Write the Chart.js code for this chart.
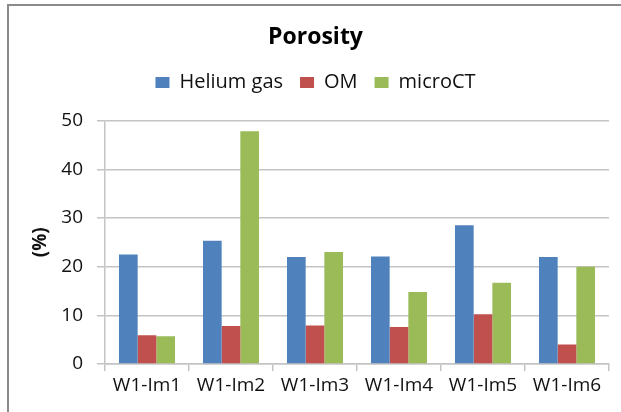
<!DOCTYPE html>
<html>
<head>
<meta charset="utf-8">
<script src="https://cdn.jsdelivr.net/npm/chart.js@4/dist/chart.umd.min.js"></script>
<style>
  body { margin: 0; background: #fff; }
  #wrap { position: relative; width: 621px; height: 412px; overflow: hidden; }
  #frame { position: absolute; left: 7px; top: 4px; width: 700px; height: 500px;
           border-top: 2px solid #8a8a8a; border-left: 2px solid #8a8a8a; pointer-events: none; }
</style>
</head>
<body>
<div id="wrap">
  <canvas id="porosityChart" width="621" height="412"></canvas>
  <div id="frame"></div>
</div>
<script>
const categorias = ['W1-Im1', 'W1-Im2', 'W1-Im3', 'W1-Im4', 'W1-Im5', 'W1-Im6'];
const heliumGas = [22.5, 25.3, 22.0, 22.1, 28.5, 22.0];
const om = [5.9, 7.8, 7.9, 7.6, 10.2, 4.0];
const microCT = [5.7, 47.8, 23.0, 14.8, 16.7, 20.0];
const yMin = 0, yMax = 50, yStep = 10;

const fuente = '"Open Sans", sans-serif';
const gris = '#c4c4c4';

// espacio extra debajo de la leyenda
const legendSpacer = {
    id: 'legendSpacer',
    beforeInit(chart) {
        const originalFit = chart.legend.fit;
        chart.legend.fit = function fit() {
            originalFit.bind(chart.legend)();
            this.height += 18;
        };
    }
};

const ctx = document.getElementById('porosityChart').getContext('2d');

new Chart(ctx, {
    type: 'bar',
    data: {
        labels: categorias,
        datasets: [
            { label: 'Helium gas', data: heliumGas, backgroundColor: '#4F81BD' },
            { label: 'OM', data: om, backgroundColor: '#C0504D' },
            { label: 'microCT', data: microCT, backgroundColor: '#9BBB59' }
        ]
    },
    options: {
        responsive: false,
        devicePixelRatio: 1,
        animation: false,
        datasets: {
            bar: { categoryPercentage: 0.667, barPercentage: 1.0 }
        },
        layout: { padding: { top: 5, left: 22, right: 12, bottom: 0 } },
        scales: {
            x: {
                offset: true,
                grid: { drawOnChartArea: false, drawTicks: true, tickLength: 7, color: gris, lineWidth: 1.5, offset: true },
                border: { display: true, color: gris, width: 1.5 },
                ticks: { color: '#111', padding: 3, font: { family: fuente, size: 19 }, maxRotation: 0 },
                afterFit: (scale) => { scale.height = 48; }
            },
            y: {
                min: yMin,
                max: yMax,
                grid: { color: gris, lineWidth: 1.5, tickLength: 8 },
                border: { display: true, color: gris, width: 1.5 },
                ticks: { stepSize: yStep, color: '#111', padding: 14, font: { family: fuente, size: 19 } },
                title: {
                    display: true,
                    text: '(%)',
                    color: '#111',
                    padding: { top: 7, bottom: 0 },
                    font: { family: fuente, size: 19, weight: 'bold' }
                },
                afterFit: (scale) => { scale.width = 83; }
            }
        },
        plugins: {
            title: {
                display: true,
                text: 'Porosity',
                color: '#000',
                padding: { top: 19, bottom: 4 },
                font: { family: fuente, size: 23, weight: 'bold' }
            },
            legend: {
                labels: {
                    color: '#111',
                    boxWidth: 14,
                    boxHeight: 11,
                    padding: 17,
                    font: { family: fuente, size: 20 }
                }
            },
            tooltip: { enabled: false }
        }
    },
    plugins: [legendSpacer]
});
</script>
</body>
</html>
